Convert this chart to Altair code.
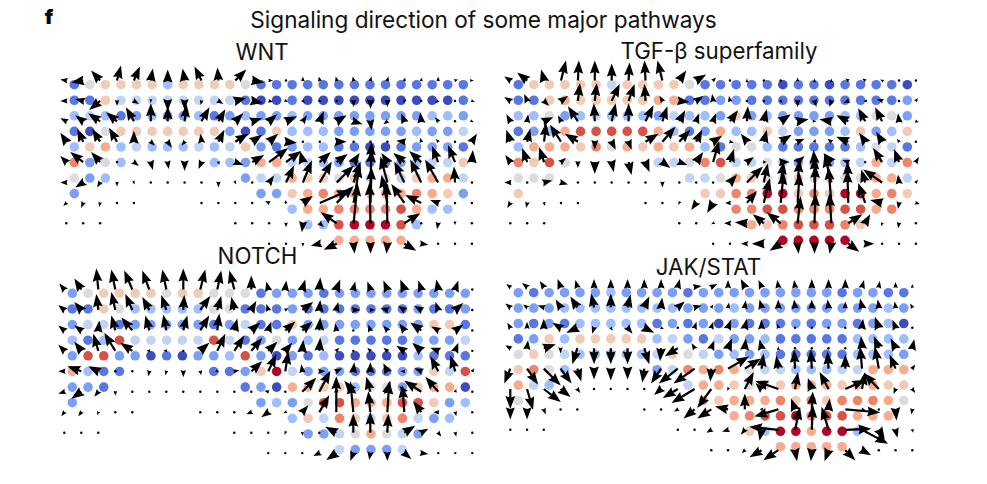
import math
import altair as alt
import pandas as pd

COOLWARM = ["#3b4cc0", "#5977e3", "#7b9ff9", "#9ebeff", "#c0d4f5", "#dddcdc",
            "#f2cbb7", "#f7ac8e", "#ee8468", "#d65244", "#b40426"]

# level of each dot, row by row: 0-9 and a=10, "." = no dot
WNT_DOTS = [
    "1566663666651 1111111111111", "1164444444410 0100000000001", "3431232231232 2322222222332",
    "1056666666201 6333222223224", "3673433343462 1233110012221", "8253.....3327 7443211123446",
    "523........24 4766565546774", "2...........2 2678776778762", "............. .37788889733.",
    "............. ..339aaa93...", "............. ....77777....",
]
TGF_DOTS = [
    "1666664666651 1111011011110", "1167666667711 2211111111112", "3352343332433 2623222233552",
    "1237999997312 7336422236236", "3777685767673 1553111113541", "8695.....4458 9445422234748",
    "555........44 5765565655774", "6...........6 688aa686aa786", "............. .88998889978.",
    "............. ..76899986...", "............. ....aaaaa....",
]
NOTCH_DOTS = [
    "2566665665551 2221222222222", "1165333335511 1211111112112", "2441222221241 1622222222661",
    "3139444449412 5234111113224", "2992201022392 0213000003111", "7311.....1126 a422211122649",
    "221........12 0776635526770", "2...........2 3259977799623", "............. .36486468423.",
    "............. ..22457542...", "............. ....42224....",
]
JAK_DOTS = [
    "2122223222212 2222222212211", "2223333333322 2322222222232", "2121333331212 0211121221230",
    "1263666663421 4223111113333", "5654333334654 2323111113332", "6853.....2487 8754433344777",
    "743........47 7655677767766", "5...........7 6777868688875", "............. .7899a899777.",
    "............. ..63aa7aa3...", "............. ....77777....",
]

# arrow vectors (right, down), row by row; "." = no arrow
WNT_ARROWS = [
    "-6,-1 -12,2 -9,-10 4,-15 6,-14 2,-12 0,-11 -2,-12 -7,-14 -1,-13 11,-11 12,2 4,0 1,-1 0,-4 -1,-4 -1,-4 -1,-4 1,-4 1,-4 1,-3 1,-3 0,-4 3,-1 2,0",
    "-6,0 -8,-2 -11,9 0,5 5,3 0,2 0,10 0,9 -1,4 5,3 11,-3 11,2 4,1 2,1 2,2 2,1 1,1 0,6 0,8 0,6 -1,2 -1,1 -3,2 1,1 3,1",
    "-6,-3 -8,-6 -12,-8 -11,-9 -8,-14 0,-18 0,-15 2,-17 8,-14 7,-12 8,-8 10,-3 8,-7 11,-5 4,-6 4,-10 10,-6 9,3 1,9 -4,3 -3,-8 -1,-9 -3,-4 1,0 2,1",
    "-6,-9 -6,-13 -8,-13 -8,-14 0,-11 4,4 4,6 -3,4 -1,-8 6,-12 13,-8 10,-7 9,-8 11,1 1,1 0,0 10,0 0,0 0,0 0,0 -8,-1 -1,-4 -2,-3 0,0 5,-8",
    "-6,-6 -13,-10 -9,-10 0,0 5,4 2,8 1,7 0,9 -3,7 1,3 8,3 12,-7 19,-14 15,-11 -3,-11 11,-10 11,-8 6,-9 1,-20 -6,-9 -11,-9 -12,-11 -6,-16 -7,-17 1,-12",
    "-6,0 -8,5 -3,5 0,4 1,2 0,0 0,0 0,0 1,1 0,5 1,2 0,0 5,-7 8,-17 9,-22 12,-21 17,-17 7,-21 1,-33 -7,-26 -10,-21 -11,-23 -13,-23 -1,-16 1,-1",
    "-3,3 -2,5 -1,4 0,0 0,0 . . . 0,0 0,0 0,0 -1,0 -4,-2 -1,-3 10,-7 30,-13 17,-17 6,-38 1,-36 -6,-28 -13,-19 -16,-8 -8,-3 0,0 1,0",
    "0,0 0,0 0,0 . . . . . . . 0,0 0,0 0,0 0,4 -1,9 4,4 -16,-11 4,-40 -1,-41 -1,-41 16,-10 0,0 -1,6 0,2 0,1",
    ". . . . . . . . . . . . 0,0 0,0 0,3 -9,2 -13,6 1,10 0,10 -1,10 12,7 7,1 1,1 0,0 0,0",
]
TGF_ARROWS = [
    "-6,-4 -10,-8 -3,-11 5,-20 1,-20 0,-20 0,-17 1,-18 -1,-20 -5,-20 7,-10 10,-6 3,-3 1,0 0,-2 0,-1 -1,-1 0,-3 0,-2 0,-2 -3,-2 -3,-2 -2,-1 -1,0 0,-1",
    "-6,-4 -3,-7 5,5 7,-5 2,-18 2,-18 8,-17 6,-17 -1,-17 -3,-5 10,1 7,-5 -1,-7 -1,-5 0,0 0,0 2,2 0,6 2,6 -2,6 -5,2 -2,0 -5,-2 0,0 2,-3",
    "-4,-7 1,-7 9,-4 -3,-6 -10,-15 -1,-18 4,-18 0,-18 8,-16 5,-15 6,-11 3,-8 3,-8 8,-11 1,-15 3,-12 10,-7 11,-2 2,0 -12,-2 -12,-6 -7,-13 -7,-14 -1,-8 3,1",
    "-4,-12 3,-13 2,-19 -11,-17 -13,-8 0,8 4,8 3,8 13,-8 13,-15 11,-12 6,-12 9,-6 4,1 -6,-8 3,-12 11,-7 7,-3 1,-3 -4,-3 -12,-5 -6,-9 -6,-10 -2,-3 0,0",
    "-5,-7 -5,-14 -5,-15 5,-4 0,6 0,12 2,10 3,13 4,10 8,6 8,3 7,-10 6,-21 4,-13 7,-5 3,0 9,0 7,-6 -1,-12 -8,-9 -6,-2 -1,0 -9,-14 -5,-13 3,-5",
    "-6,0 -1,0 8,-2 7,2 1,1 0,0 0,0 0,0 0,1 0,5 0,0 1,0 0,0 7,-8 16,-16 4,-19 3,-21 2,-23 0,-26 -7,-28 -1,-21 -4,-13 -19,-13 -1,-8 2,-3",
    "-3,5 -1,5 1,3 0,0 0,0 . . . 0,0 0,0 -1,2 -5,7 -6,10 -5,0 10,-12 6,-25 3,-31 2,-30 1,-38 -3,-36 -1,-33 -7,-20 -12,-3 -1,6 4,1",
    "0,0 0,0 0,0 . . . . . . . 0,0 0,0 -2,1 -6,0 -12,-1 -11,-9 -14,-11 3,-27 1,-30 -2,-30 14,-9 5,-9 -1,3 -1,5 0,1",
    ". . . . . . . . . . . . 0,0 0,0 -6,0 -12,0 -11,7 1,10 0,10 -2,10 11,8 9,0 0,0 0,1 0,0",
]
NOTCH_ARROWS = [
    "-5,-6 -7,-11 -2,-21 -4,-20 -8,-19 -7,-19 -4,-20 0,-21 5,-20 4,-19 -5,-19 0,-14 -2,-8 1,-9 3,-10 1,-12 4,-10 2,-8 -3,-8 -4,-9 -4,-10 -3,-9 -2,-10 3,-9 0,-1",
    "-6,-5 -7,-8 -2,-16 -4,-18 -7,-16 -7,-13 -5,-15 1,-15 10,-14 4,-14 -3,-13 5,-9 -2,-6 3,-2 11,-8 1,-10 2,-8 7,0 5,0 -7,-2 -6,-4 -7,-4 -3,-8 8,-7 0,0",
    "-6,-5 -7,-5 1,-10 -4,-15 -11,-13 -4,-15 -3,-16 4,-15 9,-15 2,-17 3,-12 9,-8 3,-9 10,-9 10,-9 1,-13 -1,-7 0,1 -2,-6 -4,-5 -5,-7 -11,-8 -7,-4 8,-6 0,0",
    "-6,-6 -7,-9 -5,-17 -11,-18 -12,-8 -3,0 -3,0 0,0 9,-8 8,-17 10,-15 11,-13 9,-9 7,-8 1,-11 1,-13 3,-3 0,0 -3,-3 -4,-3 -8,-5 -9,-8 -8,-3 3,-8 0,0",
    "-6,0 -14,-5 -10,-5 0,0 0,1 -1,5 -1,4 0,6 1,4 2,1 5,-1 11,-10 8,-17 3,-20 -1,-7 6,0 6,-3 1,-9 0,-9 -4,-8 -4,0 -7,-3 -8,-15 -5,-16 2,-3",
    "-6,2 -10,7 -4,5 0,4 0,0 0,0 0,0 0,0 0,0 1,1 0,0 1,0 -4,-1 0,0 14,-14 11,-21 0,-5 -9,-11 -4,-15 3,-11 -5,-6 -17,-11 -13,-15 1,-3 0,0",
    "-3,4 -3,4 -1,3 0,0 0,0 . . . 0,0 0,0 0,0 -5,2 -7,5 -2,1 6,-7 10,-17 0,-36 -3,-31 -2,-21 2,-31 -2,-27 -8,-11 -5,0 1,4 0,0",
    "0,0 0,0 0,0 . . . . . . . 0,0 0,0 -1,1 -1,2 0,3 0,0 -11,-6 0,-19 0,-21 1,-19 11,-7 7,-4 3,4 1,4 0,0",
    ". . . . . . . . . . . . 0,0 0,0 -1,1 -6,3 -10,7 -3,8 -1,7 0,8 7,6 7,1 0,0 0,0 0,0",
]
JAK_ARROWS = [
    "-4,-3 -5,-4 -4,-6 -3,-8 -2,-7 0,-8 0,-8 0,-8 0,-8 0,-8 2,-8 7,-1 6,-3 0,-7 -4,-8 -3,-7 -1,-7 -1,-7 0,-8 0,-8 0,-8 2,-7 1,-6 0,-5 0,-3",
    "-5,-4 -4,-3 -6,-2 -5,-8 -7,-11 -3,-14 0,-14 3,-13 5,-11 1,-10 7,-6 7,-2 2,-3 1,-5 1,-7 -2,-8 0,-8 -1,-8 0,-8 -1,-8 0,-6 -2,-9 -1,-8 -1,-6 -2,-4",
    "-3,-5 0,-6 0,-9 -8,-5 -11,5 -2,6 2,3 5,6 10,5 3,1 0,1 2,-6 2,-6 3,-8 2,-9 0,-8 -1,-4 0,0 0,0 0,0 0,0 1,-9 -4,-11 -3,-8 0,-1",
    "-5,-3 1,-8 12,-4 0,5 -5,16 0,16 0,16 0,16 5,16 -1,13 -13,8 -3,-5 3,-8 4,-10 1,-10 -2,-9 0,-2 0,0 0,0 0,0 0,0 -1,-12 -5,-12 -5,-10 2,-9",
    "-6,15 11,16 17,17 11,15 4,13 0,11 0,12 0,11 -2,14 -10,15 -19,15 -21,15 -1,13 21,-12 16,-10 2,-15 -2,-13 -1,-19 -1,-19 -1,-17 0,-14 -2,-22 -4,-22 -6,-14 3,-4",
    "0,20 6,21 17,13 10,8 3,4 0,0 0,0 0,0 -1,1 -7,6 -15,9 -23,14 -14,19 -1,2 9,-17 -6,-6 -23,-8 3,-17 -4,-11 -9,-17 20,-9 3,-17 -15,-16 -2,5 3,4",
    "0,10 0,10 2,5 1,1 0,0 . . . 0,0 0,0 -4,2 -11,9 -14,9 -13,-3 0,-16 2,-2 -24,7 -4,-11 1,-18 1,-11 35,3 4,1 0,0 1,11 -1,5",
    "0,0 0,0 0,0 . . . . . . . 0,0 -1,1 -5,3 -6,2 -4,5 -2,11 -29,-3 5,-23 1,-25 -7,-23 26,-1 26,14 6,10 2,8 1,3",
    ". . . . . . . . . . . . 0,0 0,0 -3,3 -12,7 -15,10 2,11 -1,11 -4,11 10,10 9,5 1,1 0,0 0,0",
]

PANEL_TITLES = ["WNT", "TGF-β superfamily", "NOTCH", "JAK/STAT"]
MAIN_TITLE = "Signaling direction of some major pathways"

# layout of each panel on the page: dot grid and arrow grid
LAYOUT = [
    dict(dots=WNT_DOTS, arrows=WNT_ARROWS, d=(74.3, 15.56, 84.7, 15.56), a=(66.3, 16.9, 80.5, 20.4), t=(262, 53)),
    dict(dots=TGF_DOTS, arrows=TGF_ARROWS, d=(518.3, 15.56, 84.7, 15.56), a=(510.3, 16.9, 80.5, 20.4), t=(719, 52)),
    dict(dots=NOTCH_DOTS, arrows=NOTCH_ARROWS, d=(72.3, 15.72, 293.3, 15.63), a=(64.3, 17.0, 289.5, 20.45), t=(257.5, 257)),
    dict(dots=JAK_DOTS, arrows=JAK_ARROWS, d=(518.3, 15.42, 292.7, 15.4), a=(510.3, 16.75, 287.0, 20.4), t=(708.5, 268)),
]

dot_rows, arrow_rows, tiny_rows, label_rows = [], [], [], []
for name, p in zip(PANEL_TITLES, LAYOUT):
    x0, xs, y0, ys = p["d"]
    for r, row in enumerate(p["dots"]):
        for c, ch in enumerate(row.replace(" ", "")):
            if ch != ".":
                dot_rows.append(dict(x=x0 + xs * c, y=y0 + ys * r, level=int(ch, 16)))
    x0, xs, y0, ys = p["a"]
    for r, row in enumerate(p["arrows"]):
        for c, item in enumerate(row.split()):
            if item == ".":
                continue
            u, v = map(float, item.split(","))
            tx, ty = x0 + xs * c, y0 + ys * r
            L = math.hypot(u, v)
            if L < 1.5:
                tiny_rows.append(dict(x=tx, y=ty))
                continue
            ux, uy = u / L, v / L
            hl = max(min(L * 1.2, 13.0), 4.0)
            arrow_rows.append(dict(
                x=tx, y=ty,
                x2=tx + ux * max(L - 0.6 * hl, 0), y2=ty + uy * max(L - 0.6 * hl, 0),
                hx=tx + ux * (L - hl / 2), hy=ty + uy * (L - hl / 2),
                size=hl * hl, angle=(math.degrees(math.atan2(ux, -uy)) + 360) % 360,
            ))
    label_rows.append(dict(x=p["t"][0], y=p["t"][1], label=name))

W, H = 970, 462
xs = alt.Scale(domain=[8, 8 + W], range=[0, W], nice=False, zero=False)
ys = alt.Scale(domain=[8, 8 + H], range=[0, H], nice=False, zero=False)
X = alt.X("x:Q", scale=xs, axis=None)
Y = alt.Y("y:Q", scale=ys, axis=None)

dots = alt.Chart(pd.DataFrame(dot_rows)).mark_circle(size=92, opacity=1).encode(
    X, Y,
    color=alt.Color("level:Q", legend=None,
                    scale=alt.Scale(domain=list(range(11)), range=COOLWARM)),
)
arrows_df = pd.DataFrame(arrow_rows)
shafts = alt.Chart(arrows_df).mark_rule(color="black", strokeWidth=2.2).encode(
    X, Y, x2="x2:Q", y2="y2:Q",
)
heads = alt.Chart(arrows_df).mark_point(
    shape="M0,-1L0.75,1L0,0.75L-0.75,1Z", filled=True, color="black", opacity=1, strokeWidth=0
).encode(
    alt.X("hx:Q", scale=xs, axis=None), alt.Y("hy:Q", scale=ys, axis=None),
    size=alt.Size("size:Q", scale=None, legend=None),
    angle=alt.Angle("angle:Q", scale=None),
)
tiny = alt.Chart(pd.DataFrame(tiny_rows)).mark_circle(size=6, color="black", opacity=1).encode(X, Y)
labels = alt.Chart(pd.DataFrame(label_rows)).mark_text(
    font="Inter", fontSize=22.3, align="center", baseline="middle", color="#111111"
).encode(X, Y, text="label:N")
main = alt.Chart(pd.DataFrame([dict(x=483.5, y=21, label=MAIN_TITLE)])).mark_text(
    font="Inter", fontSize=22.6, align="center", baseline="middle", color="#111111"
).encode(X, Y, text="label:N")
tag = alt.Chart(pd.DataFrame([dict(x=49, y=24, label="f")])).mark_text(
    font="Inter", fontSize=20, fontWeight=900, align="center", baseline="alphabetic", color="black"
).encode(X, Y, text="label:N")

chart = alt.layer(dots, shafts, heads, tiny, labels, main, tag).properties(
    width=W, height=H, padding=0, autosize=alt.AutoSizeParams(type="none"),
).configure_view(stroke=None)

chart.save("out.html", embed_options={"renderer": "svg", "actions": False})
